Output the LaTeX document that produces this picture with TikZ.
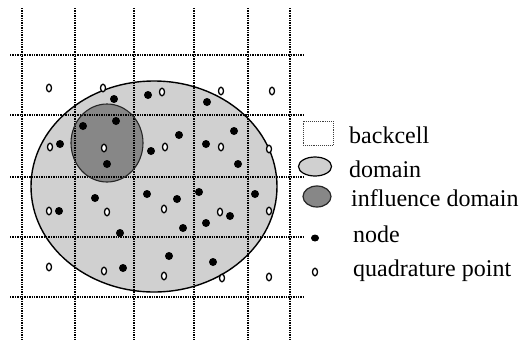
\documentclass[tikz,border=0pt]{standalone}
\usepackage{fontspec}
\setmainfont{Liberation Serif}
\usetikzlibrary{shapes.geometric}
\definecolor{domfill}{RGB}{208,208,208}
\definecolor{inflfill}{RGB}{135,135,135}
\tikzset{
  gridline/.style={densely dotted, line width=1.4pt, black},
  outline/.style={line width=1.4pt, black},
  nodept/.style={circle, fill=black, inner sep=0pt, minimum size=8pt},
  quadpt/.style={ellipse, draw=black, fill=white, line width=1.3pt, inner sep=0pt,
                 minimum width=5pt, minimum height=7.5pt},
  legtext/.style={anchor=base west, inner sep=0pt, font=\fontsize{24}{28}\selectfont}
}
\begin{document}
\begin{tikzpicture}[x=1pt,y=-1pt]
\useasboundingbox (0,0) rectangle (530,341);

% support domain and influence domain (fills)
\node[ellipse, fill=domfill, minimum width=246pt, minimum height=211pt, inner sep=0pt] (domain) at (154,186.5) {};
\node[ellipse, fill=inflfill, minimum width=72pt, minimum height=78pt, inner sep=0pt] (infl) at (107,143) {};

% background cells
\foreach \gx in {22,75,134,194,248,290}
  \draw[gridline] (\gx,8) -- (\gx,340);
\foreach \gy in {55,115,177,237,297}
  \draw[gridline] (10,\gy) -- (303,\gy);

% outlines on top of the grid
\draw[outline] (domain.center) ellipse [x radius=123pt, y radius=105.5pt];
\draw[line width=1.1pt, black!85] (infl.center) ellipse [x radius=36pt, y radius=39pt];

% field nodes
\foreach \px/\py [count=\i] in {114/99,148/95,207/102,83/126,116/121,179/135,234/131,
    60/144,151/151,206/144,107/164,238/164,95/198,147/194,177/199,199/192,255/194,
    59/211,230/216,206/223,183/228,120/233,169/256,213/262,123/268}
  \node[nodept] (nd\i) at (\px,\py) {};

% quadrature points
\foreach \px/\py [count=\i] in {49/88,103/88,162/92,221/91,272/91,
    50/147,104/148,165/147,221/147,269/149,
    49/211,107/212,164/209,220/212,269/211,
    49/267,104/271,164/276,222/278,269/277}
  \node[quadpt] (qp\i) at (\px,\py) {};

% legend
\node[draw=black!75, densely dotted, line width=0.9pt, minimum width=30pt, minimum height=24pt, inner sep=0pt] (legcell) at (318,133) {};
\node[ellipse, draw=black, line width=1.2pt, fill=domfill, minimum width=33pt, minimum height=19pt, inner sep=0pt] (legdom) at (315,166.5) {};
\node[ellipse, draw=black!85, line width=1.2pt, fill=inflfill, minimum width=28pt, minimum height=21pt, inner sep=0pt] (leginfl) at (317,196.5) {};
\node[ellipse, fill=black, minimum width=8pt, minimum height=7pt, inner sep=0pt] (legnode) at (315,238) {};
\node[quadpt] (legquad) at (315,272) {};

\node[legtext] (tcell) at (349,143) {backcell};
\node[legtext] (tdom) at (349,177) {domain};
\node[legtext] (tinfl) at (351,206) {influence domain};
\node[legtext] (tnode) at (353,242) {node};
\node[legtext] (tquad) at (353,276) {quadrature point};
\end{tikzpicture}
\end{document}
